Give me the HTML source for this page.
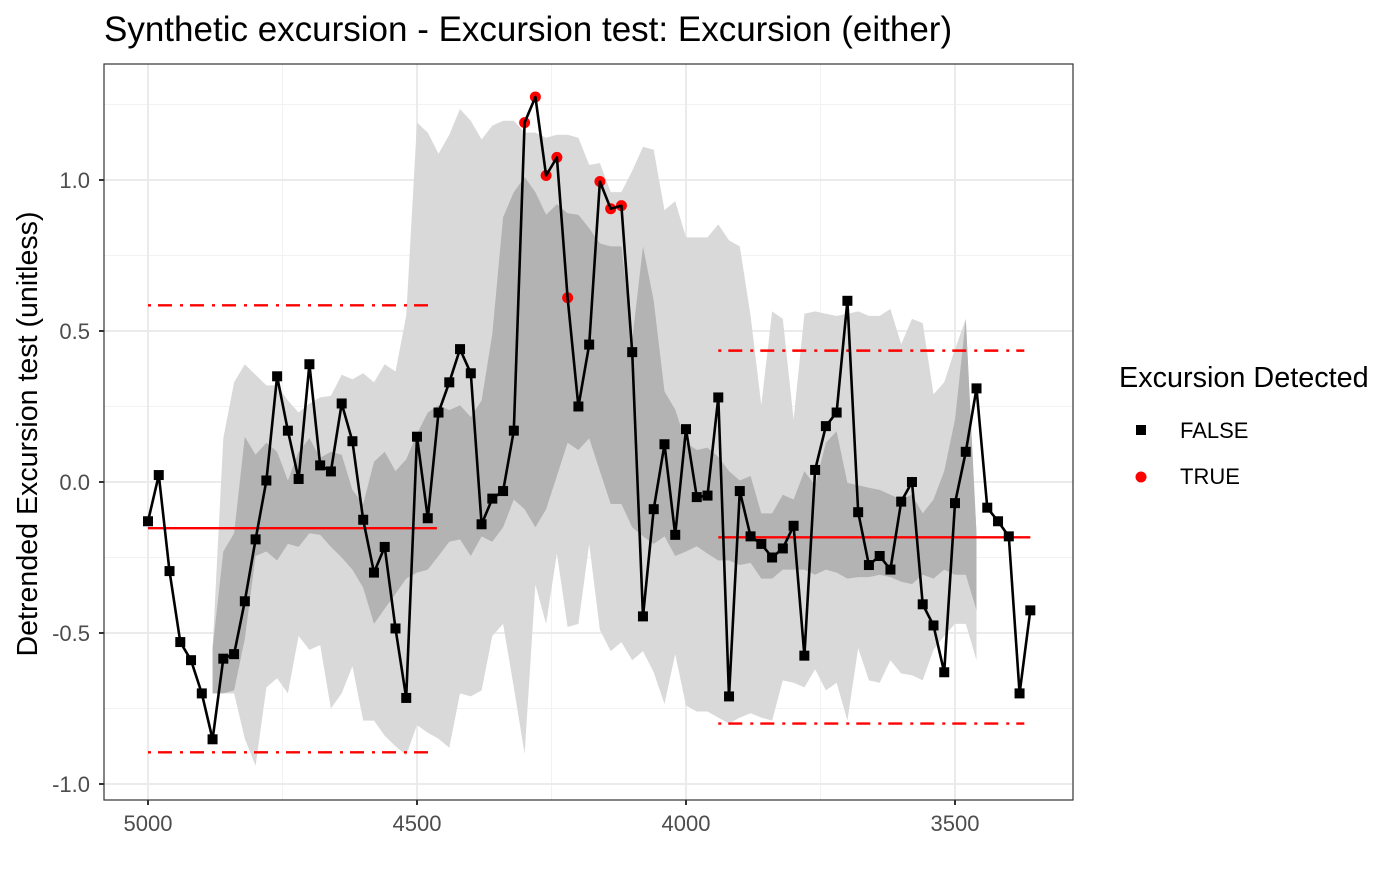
<!DOCTYPE html>
<html><head><meta charset="utf-8"><style>
html,body{margin:0;padding:0;background:#fff;}
svg text{font-family:"Liberation Sans",Arial,sans-serif;}
</style></head><body>
<svg id="chart" width="1400" height="865" viewBox="0 0 1400 865" xmlns="http://www.w3.org/2000/svg">
<rect x="0" y="0" width="1400" height="865" fill="#fff"/>
<text x="104" y="41" font-size="35" fill="#000">Synthetic excursion - Excursion test: Excursion (either)</text>
<g id="grid"></g>
<g id="bands"></g>
<g id="refs"></g>
<g id="series"></g>
<rect x="104" y="64" width="969" height="736" fill="none" stroke="#333" stroke-width="1.2"/>
<g id="axes"></g>
<text transform="translate(37,434) rotate(-90)" text-anchor="middle" font-size="28.6" fill="#000">Detrended Excursion test (unitless)</text>
<g>
<text x="1119" y="387" font-size="28.8" fill="#000">Excursion Detected</text>
<rect x="1136" y="425" width="10" height="10" fill="#000"/>
<text x="1180" y="438" font-size="22" fill="#000">FALSE</text>
<circle cx="1141" cy="477" r="5.5" fill="#f00"/>
<text x="1180" y="484" font-size="22" fill="#000">TRUE</text>
</g>
</svg>
<script>
const years = [];
for (let i = 0; i < 83; i++) years.push(5000 - 20 * i);
const values = [-0.13,0.023,-0.295,-0.53,-0.59,-0.70,-0.852,-0.585,-0.57,-0.395,-0.19,0.005,0.35,0.17,0.01,0.39,0.055,0.035,0.26,0.135,-0.125,-0.30,-0.215,-0.485,-0.715,0.15,-0.12,0.23,0.33,0.44,0.36,-0.14,-0.055,-0.03,0.17,1.19,1.275,1.015,1.075,0.61,0.25,0.455,0.995,0.905,0.915,0.43,-0.445,-0.09,0.125,-0.175,0.175,-0.05,-0.045,0.28,-0.71,-0.03,-0.18,-0.205,-0.25,-0.22,-0.145,-0.575,0.04,0.185,0.23,0.60,-0.1,-0.275,-0.245,-0.29,-0.065,0.0,-0.405,-0.475,-0.63,-0.07,0.1,0.31,-0.085,-0.13,-0.18,-0.70,-0.425];
const detected = [35,36,37,38,39,42,43,44];
const bandYears = [4880,4860,4840,4820,4800,4780,4760,4740,4720,4700,4680,4660,4640,4620,4600,4580,4560,4540,4520,4500,4480,4460,4440,4420,4400,4380,4360,4340,4320,4300,4280,4260,4240,4220,4200,4180,4160,4140,4120,4100,4080,4060,4040,4020,4000,3980,3960,3940,3920,3900,3880,3860,3840,3820,3800,3780,3760,3740,3720,3700,3680,3660,3640,3620,3600,3580,3560,3540,3520,3500,3480,3460];
const outerUpper = [-0.55,0.145,0.33,0.39,0.355,0.32,0.32,0.27,0.23,0.26,0.28,0.285,0.355,0.34,0.36,0.33,0.39,0.366,0.55,1.19,1.157,1.087,1.15,1.235,1.196,1.134,1.18,1.196,1.196,1.157,1.157,1.14,1.15,1.15,1.14,1.05,1.056,0.96,0.96,1.03,1.11,1.10,0.90,0.93,0.81,0.81,0.81,0.853,0.80,0.78,0.55,0.254,0.565,0.54,0.207,0.557,0.565,0.557,0.55,0.557,0.565,0.55,0.55,0.573,0.456,0.54,0.526,0.29,0.33,0.44,0.54,-0.17];
const innerUpper = [-0.55,-0.23,-0.17,0.15,0.09,0.13,0.10,0.005,0.10,0.145,0.08,0.10,0.09,-0.026,-0.073,0.067,0.10,0.036,0.075,0.16,0.23,0.254,0.238,0.254,0.215,0.27,0.49,0.877,0.96,1.01,0.96,0.885,0.92,0.89,0.885,0.84,0.79,0.78,0.78,0.47,0.78,0.60,0.30,0.24,0.13,0.106,0.114,0.083,0.036,0.005,0.02,-0.104,-0.104,-0.042,-0.058,0.036,-0.011,0.13,0.168,-0.003,-0.011,-0.019,-0.026,-0.042,-0.058,-0.042,-0.104,-0.058,0.036,0.207,0.54,-0.17];
const innerLower = [-0.70,-0.70,-0.69,-0.52,-0.245,-0.23,-0.26,-0.205,-0.215,-0.17,-0.175,-0.215,-0.25,-0.29,-0.35,-0.47,-0.42,-0.37,-0.32,-0.30,-0.29,-0.245,-0.198,-0.19,-0.245,-0.18,-0.198,-0.15,-0.058,-0.09,-0.15,-0.09,0.02,0.13,0.106,0.145,0.036,-0.073,-0.073,-0.15,-0.18,-0.205,-0.18,-0.245,-0.23,-0.213,-0.237,-0.26,-0.26,-0.275,-0.268,-0.32,-0.32,-0.29,-0.29,-0.29,-0.307,-0.29,-0.30,-0.32,-0.315,-0.315,-0.307,-0.315,-0.33,-0.338,-0.307,-0.32,-0.29,-0.307,-0.307,-0.425];
const outerLower = [-0.70,-0.70,-0.70,-0.85,-0.94,-0.68,-0.65,-0.70,-0.51,-0.556,-0.54,-0.75,-0.70,-0.61,-0.79,-0.79,-0.84,-0.875,-0.905,-0.805,-0.83,-0.85,-0.88,-0.70,-0.71,-0.69,-0.51,-0.47,-0.68,-0.90,-0.34,-0.47,-0.237,-0.48,-0.47,-0.205,-0.49,-0.56,-0.53,-0.59,-0.56,-0.63,-0.735,-0.57,-0.74,-0.76,-0.76,-0.78,-0.80,-0.78,-0.766,-0.78,-0.79,-0.657,-0.665,-0.68,-0.62,-0.69,-0.665,-0.79,-0.55,-0.657,-0.665,-0.59,-0.634,-0.64,-0.657,-0.556,-0.51,-0.47,-0.47,-0.59];
const segStart = [5000, 3940];
const segEnd = [4463, 3360];
const segMean = [-0.153, -0.183];
const segUpper = [0.585, 0.435];
const segLower = [-0.895, -0.80];
const xTicks = [5000, 4500, 4000, 3500];
const xMinor = [4750, 4250, 3750];
const yTicks = [-1.0, -0.5, 0.0, 0.5, 1.0];
const yTickLabels = ["-1.0", "-0.5", "0.0", "0.5", "1.0"];
const yMinor = [-0.75, -0.25, 0.25, 0.75, 1.25];

const NS = "http://www.w3.org/2000/svg";
function X(yr){ return 148 + (5000 - yr) * 0.538; }
function Y(v){ return 482 - v * 302; }
function mk(tag, attrs, parent){ const e = document.createElementNS(NS, tag); for (const k in attrs) e.setAttribute(k, attrs[k]); parent.appendChild(e); return e; }

const grid = document.getElementById('grid');
yMinor.forEach(v => { const l = mk('line', {x1:104, x2:1073, y1:Y(v), y2:Y(v), stroke:'#f2f2f2', 'stroke-width':1}, grid);
  
   });
xMinor.forEach(v => { const l = mk('line', {x1:X(v), x2:X(v), y1:64, y2:800, stroke:'#f2f2f2', 'stroke-width':1}, grid);
  
   });
yTicks.forEach(v => { const l = mk('line', {x1:104, x2:1073, y1:Y(v), y2:Y(v), stroke:'#ebebeb', 'stroke-width':2}, grid);
  
   });
xTicks.forEach(v => { const l = mk('line', {x1:X(v), x2:X(v), y1:64, y2:800, stroke:'#ebebeb', 'stroke-width':2}, grid);
  
   });

const bands = document.getElementById('bands');
function bandPath(up, lo){
  let d = '';
  bandYears.forEach((yr, i) => { d += (i ? 'L' : 'M') + X(yr).toFixed(1) + ',' + Y(up[i]).toFixed(1); });
  for (let i = bandYears.length - 1; i >= 0; i--) d += 'L' + X(bandYears[i]).toFixed(1) + ',' + Y(lo[i]).toFixed(1);
  return d + 'Z';
}
const ob = mk('path', {d: bandPath(outerUpper, outerLower), fill:'#d9d9d9'}, bands);


const ib = mk('path', {d: bandPath(innerUpper, innerLower), fill:'#b3b3b3'}, bands);



const refs = document.getElementById('refs');
segStart.forEach((s, i) => {
  const dashEnd = X(segEnd[i]) - 6;
  const m = mk('line', {x1:X(s), x2:X(segEnd[i]), y1:Y(segMean[i]), y2:Y(segMean[i]), stroke:'#f00', 'stroke-width':2.4}, refs);
  
  
  const u = mk('line', {x1:X(s), x2:dashEnd, y1:Y(segUpper[i]), y2:Y(segUpper[i]), stroke:'#f00', 'stroke-width':2.4, 'stroke-dasharray':'3 7 14 8'}, refs);
  
  
  const lo = mk('line', {x1:X(s), x2:dashEnd, y1:Y(segLower[i]), y2:Y(segLower[i]), stroke:'#f00', 'stroke-width':2.4, 'stroke-dasharray':'3 7 14 8'}, refs);
  
  
});

const series = document.getElementById('series');
values.forEach((v, i) => {
  if (detected.indexOf(i) >= 0) {
    const c = mk('circle', {cx:X(years[i]), cy:Y(v), r:5.5, fill:'#f00'}, series);
    
    
  }
});
let d = '';
values.forEach((v, i) => { d += (i ? 'L' : 'M') + X(years[i]).toFixed(1) + ',' + Y(v).toFixed(1); });
const line = mk('path', {d: d, fill:'none', stroke:'#000', 'stroke-width':2.6, 'stroke-linejoin':'round'}, series);


values.forEach((v, i) => {
  if (detected.indexOf(i) < 0) {
    const r = mk('rect', {x:X(years[i]) - 5, y:Y(v) - 5, width:10, height:10, fill:'#000'}, series);
    
    
  }
});

const axes = document.getElementById('axes');
xTicks.forEach(v => {
  const t = mk('line', {x1:X(v), x2:X(v), y1:800, y2:805, stroke:'#333', 'stroke-width':2}, axes);
  
  
  const tx = mk('text', {x:X(v), y:831, 'text-anchor':'middle', 'font-size':22, fill:'#4d4d4d'}, axes);
  tx.textContent = String(v);
  
  
});
yTicks.forEach((v, i) => {
  const t = mk('line', {x1:99, x2:104, y1:Y(v), y2:Y(v), stroke:'#333', 'stroke-width':2}, axes);
  
  
  const tx = mk('text', {x:90, y:Y(v) + 8, 'text-anchor':'end', 'font-size':22, fill:'#4d4d4d'}, axes);
  tx.textContent = yTickLabels[i];
  
  
});
</script>
</body></html>
